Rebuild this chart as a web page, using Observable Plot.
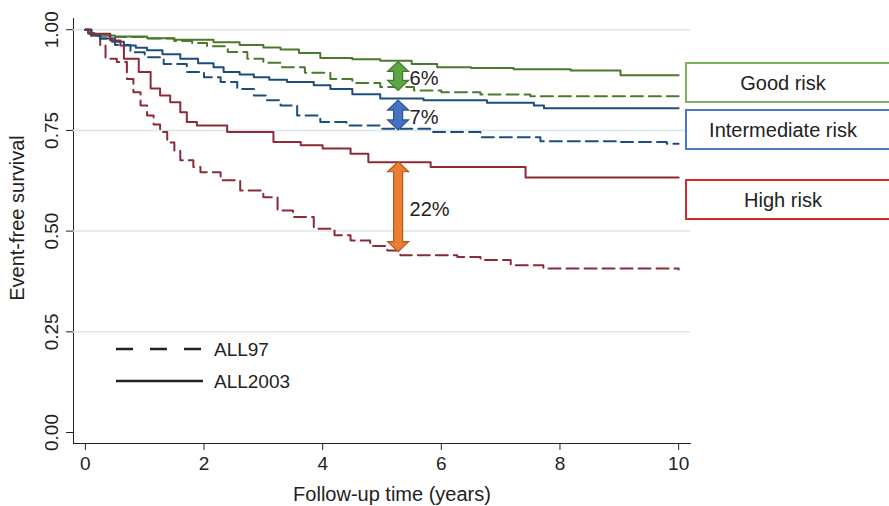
<!DOCTYPE html>
<html><head><meta charset="utf-8">
<script src="https://cdn.jsdelivr.net/npm/d3@7"></script>
<script src="https://cdn.jsdelivr.net/npm/@observablehq/plot@0.6"></script>
<style>
html,body{margin:0;padding:0;background:#fff;overflow:hidden}
#wrap{position:relative;width:889px;height:506px;font-family:"Liberation Sans",Arial,Helvetica,sans-serif;color:#222}
#chart svg{display:block}
.box{position:absolute;left:685px;width:240px;height:41px;box-sizing:border-box;border:2px solid;background:#fff}
.box span{position:absolute;left:96px;top:50%;transform:translate(-50%,-50%);font-size:20px;white-space:nowrap;color:#222}
#lt{position:absolute;left:0;top:0}
</style>
</head><body>
<div id="wrap"><div id="chart"></div></div>
<script>
// ---- data ----
const xTicks = [0, 2, 4, 6, 8, 10];
const yTicks = [0, 0.25, 0.5, 0.75, 1];
const gridValues = [0.25, 0.5, 0.75, 1];

const goodNewT = [0, 0.05, 0.15, 0.5, 1.04, 1.5, 2.16, 2.6, 3.0, 3.29, 3.6, 3.96, 4.5, 4.97, 5.5, 5.93, 6.5, 7.22, 8.18, 9.02, 10];
const goodNewS = [1.0, 0.992, 0.986, 0.983, 0.979, 0.975, 0.969, 0.962, 0.956, 0.951, 0.942, 0.930, 0.927, 0.923, 0.915, 0.907, 0.905, 0.902, 0.899, 0.887, 0.887];

const goodOldT = [0, 0.05, 0.15, 0.5, 1.0, 1.5, 1.8, 2.05, 2.4, 2.73, 3.0, 3.29, 3.7, 4.13, 4.5, 4.97, 5.54, 6.0, 6.66, 7.5, 10];
const goodOldS = [1.0, 0.992, 0.986, 0.982, 0.978, 0.972, 0.967, 0.959, 0.945, 0.928, 0.918, 0.907, 0.893, 0.878, 0.868, 0.858, 0.849, 0.845, 0.839, 0.835, 0.835];

const intNewT = [0, 0.1, 0.25, 0.45, 0.65, 0.85, 1.04, 1.3, 1.6, 1.9, 2.16, 2.33, 2.6, 2.84, 3.1, 3.4, 3.85, 4.13, 4.5, 4.97, 5.7, 6.77, 7.56, 7.73, 10];
const intNewS = [1.0, 0.986, 0.978, 0.970, 0.961, 0.955, 0.949, 0.939, 0.928, 0.917, 0.907, 0.895, 0.889, 0.882, 0.876, 0.870, 0.862, 0.853, 0.840, 0.829, 0.825, 0.819, 0.812, 0.805, 0.805];

const intOldT = [0, 0.1, 0.25, 0.5, 0.76, 1.0, 1.32, 1.71, 2.0, 2.28, 2.56, 2.84, 3.05, 3.29, 3.57, 3.96, 4.4, 4.97, 5.82, 6.66, 7.67, 9.0, 9.8, 10];
const intOldS = [1.0, 0.986, 0.978, 0.962, 0.944, 0.932, 0.915, 0.895, 0.882, 0.870, 0.853, 0.837, 0.825, 0.812, 0.787, 0.771, 0.762, 0.754, 0.746, 0.733, 0.723, 0.721, 0.717, 0.717];

const highNewT = [0, 0.05, 0.42, 0.59, 0.65, 0.9, 1.1, 1.26, 1.43, 1.6, 1.71, 1.88, 2.39, 3.17, 3.63, 4.0, 4.47, 4.77, 5.82, 7.42, 10];
const highNewS = [1.0, 0.99, 0.973, 0.961, 0.928, 0.895, 0.854, 0.837, 0.82, 0.795, 0.771, 0.762, 0.746, 0.721, 0.713, 0.705, 0.692, 0.671, 0.659, 0.633, 0.633];

const highOldT = [0, 0.1, 0.25, 0.34, 0.53, 0.7, 0.81, 0.93, 1.04, 1.15, 1.26, 1.38, 1.5, 1.6, 1.82, 1.94, 2.28, 2.61, 3.0, 3.24, 3.5, 3.85, 4.2, 4.47, 4.8, 5.09, 5.31, 6.27, 6.66, 7.17, 7.72, 10];
const highOldS = [1.0, 0.985, 0.961, 0.928, 0.92, 0.878, 0.845, 0.812, 0.787, 0.765, 0.746, 0.72, 0.70, 0.676, 0.659, 0.646, 0.626, 0.601, 0.584, 0.551, 0.535, 0.506, 0.49, 0.477, 0.463, 0.452, 0.44, 0.436, 0.428, 0.415, 0.407, 0.405];

const groups = ["Good risk", "Intermediate risk", "High risk"];
const groupColors = ["#4b7a2c", "#1b4e7e", "#8c2a38"];
const boxColors = ["#7ab55c", "#4a78c2", "#d42a30"];
const trials = ["ALL97", "ALL2003"];
const trialDash = ["12,6", null];

const arrowX = [5.28, 5.28, 5.28];
const arrowTop = [0.920, 0.824, 0.671];
const arrowBottom = [0.848, 0.750, 0.448];
const arrowLabels = ["6%", "7%", "22%"];
const arrowFill = ["#5ea644", "#4472c4", "#ed7d31"];
const arrowEdge = ["#3f7a2e", "#2f528f", "#b05a20"];

// ---- build ----
const curves = [
  {g: 0, tr: 0, t: goodOldT, s: goodOldS},
  {g: 1, tr: 0, t: intOldT, s: intOldS},
  {g: 2, tr: 0, t: highOldT, s: highOldS},
  {g: 0, tr: 1, t: goodNewT, s: goodNewS},
  {g: 1, tr: 1, t: intNewT, s: intNewS},
  {g: 2, tr: 1, t: highNewT, s: highNewS}
];
const arrows = arrowX.map((x, i) => ({x, top: arrowTop[i], bottom: arrowBottom[i], label: arrowLabels[i], fill: arrowFill[i], edge: arrowEdge[i]}));

const font = '"Liberation Sans", Arial, Helvetica, sans-serif';

function arrowMark(index, scales) {
  const g = d3.create("svg:g");
  const hw = 10.5, hl = 10, sw = 4.5;
  for (const a of arrows) {
    const x = scales.x(a.x), y1 = scales.y(a.top), y2 = scales.y(a.bottom);
    const d = `M${x},${y1}L${x+hw},${y1+hl}L${x+sw},${y1+hl}L${x+sw},${y2-hl}L${x+hw},${y2-hl}L${x},${y2}L${x-hw},${y2-hl}L${x-sw},${y2-hl}L${x-sw},${y1+hl}L${x-hw},${y1+hl}Z`;
    g.append("path").attr("d", d).attr("fill", a.fill).attr("stroke", a.edge).attr("stroke-width", 1.2).attr("stroke-linejoin", "miter");
  }
  return g.node();
}

const chart = Plot.plot({
  width: 889,
  height: 506,
  marginLeft: 73,
  marginRight: 199,
  marginTop: 18,
  marginBottom: 63,
  style: {fontSize: "19px", fontFamily: font, color: "#222", background: "transparent"},
  x: {domain: [-0.2, 10.2], ticks: xTicks, tickSize: 7, tickPadding: 6, line: true, label: null, tickFormat: d => String(d)},
  y: {domain: [-0.0273, 1.0279], ticks: yTicks, tickSize: 7, tickFormat: () => "", line: true, label: null},
  marks: [
    Plot.ruleY(gridValues, {stroke: "#dbe6ea", strokeWidth: 1.5}),
    ...curves.map(c => Plot.line(c.t.map((t, i) => ({t, s: c.s[i]})), {
      x: "t", y: "s", curve: "step-after",
      stroke: groupColors[c.g], strokeWidth: 2,
      strokeDasharray: trialDash[c.tr] ?? undefined
    })),
    arrowMark,
    Plot.text(arrows, {x: "x", y: d => (d.top + d.bottom) / 2, text: "label", textAnchor: "start", dx: 11, dy: 2, fontSize: 20, fill: "#222"}),
    Plot.text(yTicks, {y: d => d, text: d => d.toFixed(2), frameAnchor: "left", dx: -22, rotate: -90, textAnchor: "middle", lineAnchor: "middle", fontSize: 19, fill: "#222"}),
    Plot.text(["Follow-up time (years)"], {frameAnchor: "bottom", dy: 51, dx: 10, textAnchor: "middle", lineAnchor: "middle", fontSize: 20, fill: "#222"}),
    Plot.text(["Event-free survival"], {frameAnchor: "left", dx: -56, dy: -13, rotate: -90, textAnchor: "middle", lineAnchor: "middle", fontSize: 20, fill: "#222"})
  ]
});
const wrap = document.getElementById("wrap");
document.getElementById("chart").appendChild(chart);

// risk-group boxes
const boxTops = [62, 109, 179];
groups.forEach((name, i) => {
  const b = document.createElement("div");
  b.className = "box";
  b.style.top = boxTops[i] + "px";
  b.style.borderColor = boxColors[i];
  const s = document.createElement("span");
  s.textContent = name;
  b.appendChild(s);
  wrap.appendChild(b);
});

// line-type legend
const lt = d3.select(wrap).append("svg").attr("id", "lt").attr("width", 889).attr("height", 506);
const ltY = [349, 381];
trials.forEach((name, i) => {
  lt.append("line").attr("x1", 116).attr("x2", 203).attr("y1", ltY[i]).attr("y2", ltY[i])
    .attr("stroke", "#222").attr("stroke-width", 2.5).attr("stroke-dasharray", i === 0 ? "17,17" : null);
  lt.append("text").attr("x", 214).attr("y", ltY[i]).attr("dy", "0.35em").attr("font-size", 19)
    .attr("font-family", font).attr("fill", "#222").text(name);
});
</script>
</body></html>
